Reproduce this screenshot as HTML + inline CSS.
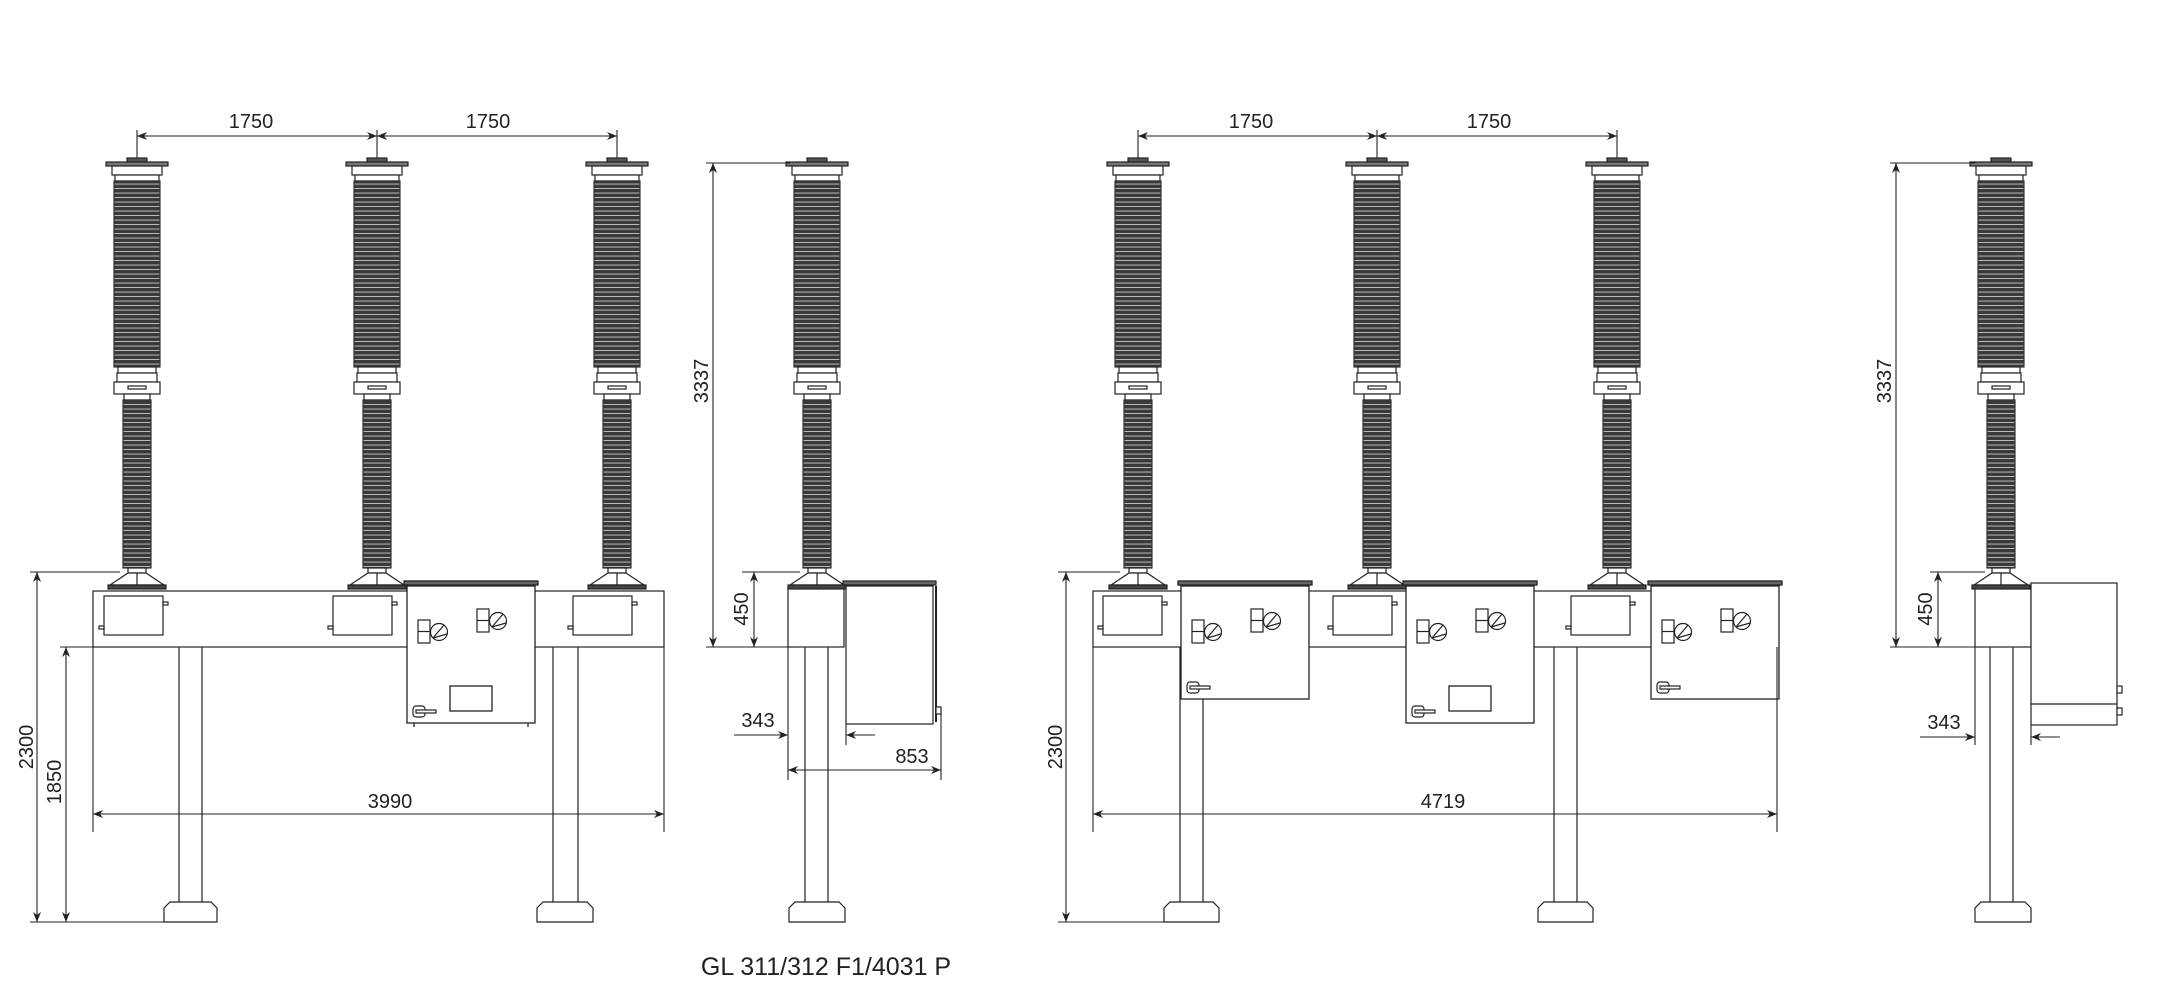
<!DOCTYPE html>
<html><head><meta charset="utf-8"><style>
html,body{margin:0;padding:0;background:#fff;}
svg{display:block;}
text{font-family:"Liberation Sans",sans-serif;fill:#222;}
</style></head><body>
<svg width="2170" height="1000" viewBox="0 0 2170 1000" xmlns="http://www.w3.org/2000/svg">
<defs>
<pattern id="rib" width="8" height="4.5" patternUnits="userSpaceOnUse">
<rect width="8" height="4.5" fill="#3a3a3a"/>
<rect y="3.6" width="8" height="0.9" fill="#c8c8c8"/>
</pattern>
<marker id="ar" viewBox="0 0 10 10" refX="10" refY="5" markerWidth="10" markerHeight="10" orient="auto-start-reverse" markerUnits="userSpaceOnUse"><path d="M0,1 L10,5 L0,9 L3,5 z" fill="#222"/></marker>
<g id="pole" stroke="#222" stroke-width="1.2" fill="#fff">
<rect x="-10" y="158" width="20" height="4" fill="#555"/>
<rect x="-31" y="162" width="62" height="4" fill="#777"/>
<rect x="-25" y="166" width="50" height="9"/>
<rect x="-22" y="175" width="44" height="6"/>
<rect x="-23" y="181" width="46" height="186" fill="url(#rib)" stroke="#333"/>
<rect x="-19" y="367" width="38" height="6"/>
<rect x="-20" y="373" width="40" height="9"/>
<rect x="-23" y="382" width="46" height="12"/>
<rect x="-9" y="386" width="18" height="3" fill="#fff"/>
<rect x="-13" y="394" width="26" height="6"/>
<rect x="-14" y="400" width="28" height="168" fill="url(#rib)" stroke="#333"/>
<rect x="-9" y="568" width="18" height="5"/>
<path d="M-9,573 L9,573 L27,585 L-27,585 z"/>
<line x1="0" y1="573" x2="0" y2="585"/>
<rect x="-29" y="585" width="58" height="4" fill="#444"/>
</g>
<g id="small" stroke="#222" stroke-width="1.2" fill="#fff">
<rect x="0" y="0" width="59" height="39"/>
<rect x="59" y="6" width="5" height="3"/>
<rect x="-5" y="30" width="5" height="3"/>
</g>
<g id="gauge" stroke="#222" stroke-width="1.2" fill="#fff">
<rect x="0" y="0" width="12" height="23"/><line x1="0" y1="11.5" x2="12" y2="11.5"/>
<circle cx="21" cy="12" r="8.5"/><line x1="15" y1="18" x2="26" y2="5"/><line x1="15" y1="18" x2="29" y2="14"/>
</g>
<g id="handle" stroke="#222" stroke-width="1.2" fill="#fff">
<rect x="0" y="0" width="12" height="11" rx="3"/><rect x="3" y="4" width="20" height="3"/>
</g>
</defs>

<g stroke="#222" stroke-width="1.1" fill="none">
<line x1="137" y1="130" x2="137" y2="160"/><line x1="377" y1="130" x2="377" y2="160"/><line x1="617" y1="130" x2="617" y2="160"/>
<line x1="137" y1="136" x2="377" y2="136" marker-start="url(#ar)" marker-end="url(#ar)"/>
<line x1="377" y1="136" x2="617" y2="136" marker-start="url(#ar)" marker-end="url(#ar)"/>
</g>
<text x="251" y="128" font-size="20" text-anchor="middle">1750</text>
<text x="488" y="128" font-size="20" text-anchor="middle">1750</text>

<g stroke="#222" stroke-width="1.2" fill="#fff">
<rect x="93" y="591" width="571" height="56"/>
</g>
<use href="#pole" x="137"/><use href="#pole" x="377"/><use href="#pole" x="617"/>
<use href="#small" x="104" y="596"/><use href="#small" x="333" y="596"/><use href="#small" x="573" y="596"/>
<g stroke="#222" stroke-width="1.2" fill="none">
<line x1="179" y1="647" x2="179" y2="902"/><line x1="202" y1="647" x2="202" y2="902"/>
<path d="M164,922 L164,908 L170,902 L211,902 L217,908 L217,922 z" fill="#fff"/>
<line x1="553" y1="647" x2="553" y2="902"/><line x1="578" y1="647" x2="578" y2="902"/>
<path d="M537,922 L537,908 L543,902 L587,902 L593,908 L593,922 z" fill="#fff"/>
</g>
<g stroke="#222" stroke-width="1.3" fill="#fff">
<rect x="407" y="586" width="128" height="137"/>
<rect x="404" y="581" width="134" height="4" fill="#666"/>
<line x1="414" y1="723" x2="414" y2="727"/><line x1="528" y1="723" x2="528" y2="727"/>
<rect x="450" y="686" width="42" height="25"/>
</g>
<use href="#gauge" x="418" y="620"/><use href="#gauge" x="477" y="609"/><use href="#handle" x="413" y="706"/>
<g stroke="#222" stroke-width="1.1" fill="none">
<line x1="30" y1="572" x2="120" y2="572"/>
<line x1="30" y1="922" x2="170" y2="922"/>
<line x1="60" y1="647" x2="93" y2="647"/>
<line x1="37" y1="572" x2="37" y2="922" marker-start="url(#ar)" marker-end="url(#ar)"/>
<line x1="66" y1="647" x2="66" y2="922" marker-start="url(#ar)" marker-end="url(#ar)"/>
<line x1="93" y1="647" x2="93" y2="832"/><line x1="664" y1="647" x2="664" y2="832"/>
<line x1="93" y1="814" x2="664" y2="814" marker-start="url(#ar)" marker-end="url(#ar)"/>
</g>
<text transform="translate(33,747) rotate(-90)" font-size="20" text-anchor="middle">2300</text>
<text transform="translate(61,782) rotate(-90)" font-size="20" text-anchor="middle">1850</text>
<text x="390" y="808" font-size="20" text-anchor="middle">3990</text>

<g stroke="#222" stroke-width="1.2" fill="#fff">
<rect x="788" y="588" width="56" height="59"/>
<line x1="805" y1="647" x2="805" y2="902" /><line x1="828" y1="647" x2="828" y2="902"/>
<path d="M789,922 L789,908 L795,902 L839,902 L845,908 L845,922 z"/>
<rect x="846" y="586" width="87" height="138"/>
<rect x="843" y="581" width="93" height="4" fill="#666"/>
<line x1="936" y1="586" x2="936" y2="722" stroke-width="2"/>
<rect x="936" y="707" width="5" height="7"/>
</g>
<use href="#pole" x="817"/>
<g stroke="#222" stroke-width="1.1" fill="none">
<line x1="706" y1="163" x2="790" y2="163"/>
<line x1="706" y1="647" x2="788" y2="647"/>
<line x1="742" y1="572" x2="800" y2="572"/>
<line x1="713" y1="163" x2="713" y2="647" marker-start="url(#ar)" marker-end="url(#ar)"/>
<line x1="754" y1="572" x2="754" y2="647" marker-start="url(#ar)" marker-end="url(#ar)"/>
<line x1="788" y1="647" x2="788" y2="780"/>
<line x1="846" y1="724" x2="846" y2="745"/>
<line x1="941" y1="714" x2="941" y2="780"/>
<line x1="734" y1="735" x2="788" y2="735" marker-end="url(#ar)"/>
<line x1="875" y1="735" x2="846" y2="735" marker-end="url(#ar)"/>
<line x1="788" y1="770" x2="941" y2="770" marker-start="url(#ar)" marker-end="url(#ar)"/>
</g>
<text transform="translate(708,381) rotate(-90)" font-size="20" text-anchor="middle">3337</text>
<text transform="translate(748,609) rotate(-90)" font-size="20" text-anchor="middle">450</text>
<text x="758" y="727" font-size="20" text-anchor="middle">343</text>
<text x="912" y="763" font-size="20" text-anchor="middle">853</text>

<g stroke="#222" stroke-width="1.1" fill="none">
<line x1="1138" y1="130" x2="1138" y2="160"/><line x1="1377" y1="130" x2="1377" y2="160"/><line x1="1617" y1="130" x2="1617" y2="160"/>
<line x1="1138" y1="136" x2="1377" y2="136" marker-start="url(#ar)" marker-end="url(#ar)"/>
<line x1="1377" y1="136" x2="1617" y2="136" marker-start="url(#ar)" marker-end="url(#ar)"/>
</g>
<text x="1251" y="128" font-size="20" text-anchor="middle">1750</text>
<text x="1489" y="128" font-size="20" text-anchor="middle">1750</text>
<g stroke="#222" stroke-width="1.2" fill="#fff">
<rect x="1093" y="591" width="684" height="56"/>
</g>
<use href="#pole" x="1138"/><use href="#pole" x="1377"/><use href="#pole" x="1617"/>
<use href="#small" x="1103" y="596"/><use href="#small" x="1333" y="596"/><use href="#small" x="1571" y="596"/>
<g stroke="#222" stroke-width="1.2" fill="none">
<line x1="1180" y1="647" x2="1180" y2="902"/><line x1="1203" y1="647" x2="1203" y2="902"/>
<path d="M1164,922 L1164,908 L1170,902 L1213,902 L1219,908 L1219,922 z" fill="#fff"/>
<line x1="1554" y1="647" x2="1554" y2="902"/><line x1="1577" y1="647" x2="1577" y2="902"/>
<path d="M1538,922 L1538,908 L1544,902 L1587,902 L1593,908 L1593,922 z" fill="#fff"/>
</g>
<g stroke="#222" stroke-width="1.3" fill="#fff">
<rect x="1181" y="586" width="128" height="113"/><rect x="1178" y="581" width="134" height="4" fill="#666"/>
<rect x="1406" y="586" width="128" height="137"/><rect x="1403" y="581" width="134" height="4" fill="#666"/>
<rect x="1449" y="686" width="42" height="25"/>
<rect x="1651" y="586" width="128" height="113"/><rect x="1648" y="581" width="134" height="4" fill="#666"/>
</g>
<use href="#gauge" x="1192" y="620"/><use href="#gauge" x="1251" y="609"/><use href="#handle" x="1187" y="682"/>
<use href="#gauge" x="1417" y="620"/><use href="#gauge" x="1476" y="609"/><use href="#handle" x="1412" y="706"/>
<use href="#gauge" x="1662" y="620"/><use href="#gauge" x="1721" y="609"/><use href="#handle" x="1657" y="682"/>
<g stroke="#222" stroke-width="1.1" fill="none">
<line x1="1058" y1="572" x2="1120" y2="572"/>
<line x1="1058" y1="922" x2="1170" y2="922"/>
<line x1="1066" y1="572" x2="1066" y2="922" marker-start="url(#ar)" marker-end="url(#ar)"/>
<line x1="1093" y1="647" x2="1093" y2="832"/><line x1="1777" y1="647" x2="1777" y2="832"/>
<line x1="1093" y1="814" x2="1777" y2="814" marker-start="url(#ar)" marker-end="url(#ar)"/>
</g>
<text transform="translate(1062,747) rotate(-90)" font-size="20" text-anchor="middle">2300</text>
<text x="1443" y="808" font-size="20" text-anchor="middle">4719</text>

<g stroke="#222" stroke-width="1.2" fill="#fff">
<rect x="1975" y="588" width="56" height="59"/>
<line x1="1990" y1="647" x2="1990" y2="902"/><line x1="2013" y1="647" x2="2013" y2="902"/>
<path d="M1975,922 L1975,908 L1981,902 L2025,902 L2031,908 L2031,922 z"/>
<rect x="2031" y="583" width="86" height="142"/>
<line x1="2031" y1="704" x2="2117" y2="704"/>
<rect x="2117" y="686" width="5" height="7"/><rect x="2117" y="708" width="5" height="7"/>
</g>
<use href="#pole" x="2001"/>
<g stroke="#222" stroke-width="1.1" fill="none">
<line x1="1890" y1="163" x2="1975" y2="163"/>
<line x1="1890" y1="647" x2="1975" y2="647"/>
<line x1="1930" y1="572" x2="1985" y2="572"/>
<line x1="1896" y1="163" x2="1896" y2="647" marker-start="url(#ar)" marker-end="url(#ar)"/>
<line x1="1938" y1="572" x2="1938" y2="647" marker-start="url(#ar)" marker-end="url(#ar)"/>
<line x1="1975" y1="647" x2="1975" y2="745"/>
<line x1="2031" y1="725" x2="2031" y2="745"/>
<line x1="1920" y1="737" x2="1975" y2="737" marker-end="url(#ar)"/>
<line x1="2060" y1="737" x2="2031" y2="737" marker-end="url(#ar)"/>
</g>
<text transform="translate(1891,381) rotate(-90)" font-size="20" text-anchor="middle">3337</text>
<text transform="translate(1932,609) rotate(-90)" font-size="20" text-anchor="middle">450</text>
<text x="1944" y="729" font-size="20" text-anchor="middle">343</text>

<text x="826" y="975" font-size="25" text-anchor="middle">GL 311/312 F1/4031 P</text>
</svg>
</body></html>
